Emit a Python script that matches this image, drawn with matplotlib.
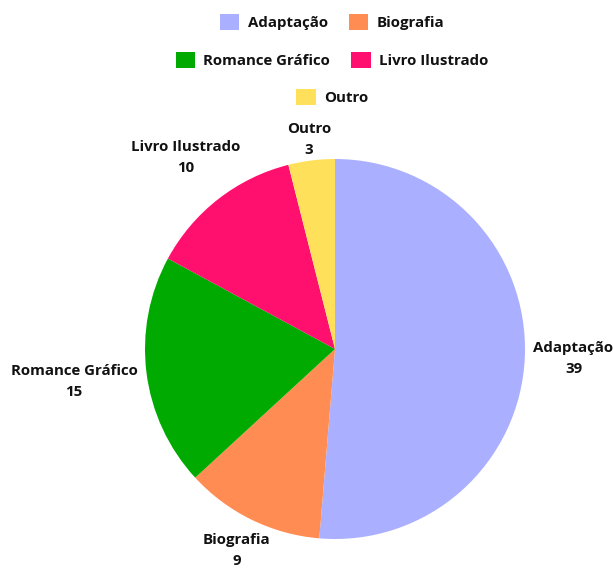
import numpy as np
import matplotlib
matplotlib.use("Agg")
import matplotlib.pyplot as plt

categories = ["Adaptação", "Biografia", "Romance Gráfico", "Livro Ilustrado", "Outro"]
values = [39, 9, 15, 10, 3]
colors = ["#aab0ff", "#ff8c52", "#00aa00", "#ff106e", "#ffe05a"]

plt.rcParams['font.family'] = ['Open Sans', 'DejaVu Sans']
FS = 10.8

W, H = 613, 569
fig = plt.figure(figsize=(W / 100, H / 100), dpi=100)
ax = fig.add_axes([0, 0, 1, 1])

cx, cy, R = 335, 220, 190  # pixels from bottom-left
wedges, _ = ax.pie(values, colors=colors, startangle=90, counterclock=False,
                   radius=1.0, wedgeprops=dict(linewidth=0))
ax.set_aspect('auto')
ax.set_xlim(-cx / R, (W - cx) / R)
ax.set_ylim(-cy / R, (H - cy) / R)
ax.axis('off')

# labels outside slices, centred on the radial line through each slice middle
total = sum(values)
fig.canvas.draw()
renderer = fig.canvas.get_renderer()
start = 90.0
for cat, v in zip(categories, values):
    span = v / total * 360
    mid = np.deg2rad(start - span / 2)
    start -= span
    c, s = np.cos(mid), np.sin(mid)
    t = ax.text(0, 0, f"{cat}\n{v}", ha='center', va='center', fontsize=FS,
                fontweight='bold', linespacing=1.65, color='#111111')
    bb = t.get_window_extent(renderer)
    w2 = (bb.width / 2 + 8) / R
    h2 = (bb.height / 2 + 0) / R
    d = 1.0 + w2 * abs(c) + h2 * abs(s)
    t.set_position((d * c, d * s))

# legend: rows 2, 2, 1 centered
rows = [[0, 1], [2, 3], [4]]
row_y = [22, 60, 97]  # pixels from top (row centers)
for idx, yy in zip(rows, row_y):
    leg = fig.legend([wedges[i] for i in idx], [categories[i] for i in idx],
                     loc='center', bbox_to_anchor=(332 / W, 1 - yy / H),
                     ncol=len(idx), frameon=False, fontsize=FS,
                     handlelength=1.3, handleheight=1.3, handletextpad=0.55,
                     columnspacing=1.4, borderpad=0, borderaxespad=0)
    for txt in leg.get_texts():
        txt.set_fontweight('bold')
        txt.set_color('#111111')

fig.savefig("out.png", dpi=100)
